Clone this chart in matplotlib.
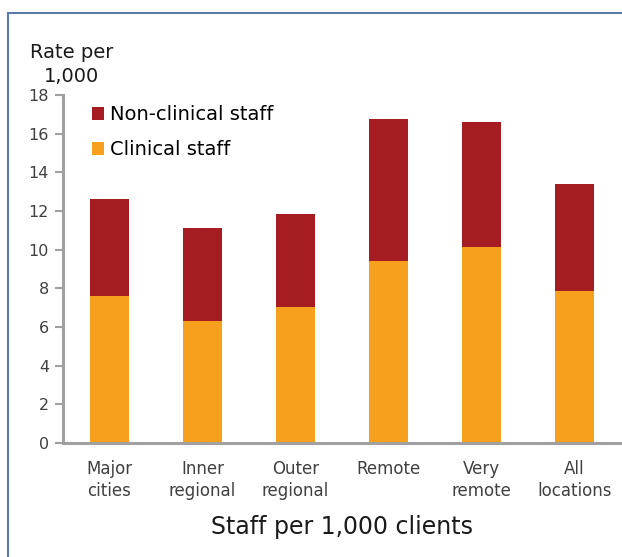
import matplotlib.pyplot as plt
from matplotlib.lines import Line2D
import numpy as np

plt.rcParams['font.family'] = ['DejaVu Sans']

categories = ["Major\ncities", "Inner\nregional", "Outer\nregional", "Remote", "Very\nremote", "All\nlocations"]
clinical = [7.6, 6.3, 7.05, 9.43, 10.14, 7.84]
non_clinical = [5.0, 4.8, 4.8, 7.32, 6.46, 5.56]  # stacked on top of clinical

c_clin = "#F7A01E"
c_non = "#A51C22"
grey = "#A0A0A0"
txt = "#404040"

fig = plt.figure(figsize=(6.22, 5.57), dpi=100)
ax = fig.add_axes([63/622, 1-443/557, 558/622, 348/557])

x = np.arange(len(categories))
ax.bar(x, clinical, width=0.41, color=c_clin, label="Clinical staff")
ax.bar(x, non_clinical, width=0.41, bottom=clinical, color=c_non, label="Non-clinical staff")

ax.set_xlim(-0.5, 5.5)
ax.set_ylim(0, 18)
ax.set_yticks(range(0, 19, 2))
ax.set_xticks(x)
ax.set_xticklabels(categories, fontsize=12, color=txt, linespacing=1.3)
ax.tick_params(axis='x', length=0, pad=12)
ax.tick_params(axis='y', length=6, width=1.5, color=grey, labelsize=11.5, labelcolor=txt, pad=4)

for s in ['top', 'right']:
    ax.spines[s].set_visible(False)
for s in ['left', 'bottom']:
    ax.spines[s].set_color(grey)
    ax.spines[s].set_linewidth(2.2)

# legend: non-clinical first
h, l = ax.get_legend_handles_labels()
ax.legend(h[::-1], l[::-1], loc='upper left', bbox_to_anchor=(0.02, 1.022), frameon=False,
          fontsize=14, handlelength=0.65, handleheight=0.65, handletextpad=0.3, labelspacing=0.85)

fig.text(72/622, 1-52/557, "Rate per", ha='center', va='center', fontsize=14, color="#1a1a1a")
fig.text(72/622, 1-77/557, "1,000", ha='center', va='center', fontsize=14, color="#1a1a1a")
fig.text(342/622, 1-527/557, "Staff per 1,000 clients", ha='center', va='center', fontsize=17,
         color="#1a1a1a")

# frame border (left and top only visible)
fig.add_artist(Line2D([8/622, 8/622], [0, 1-13/557], transform=fig.transFigure, color="#5B7BA8", lw=1.5))
fig.add_artist(Line2D([8/622, 1], [1-13/557, 1-13/557], transform=fig.transFigure, color="#5B7BA8", lw=1.5))

fig.savefig("out.png", dpi=100)
